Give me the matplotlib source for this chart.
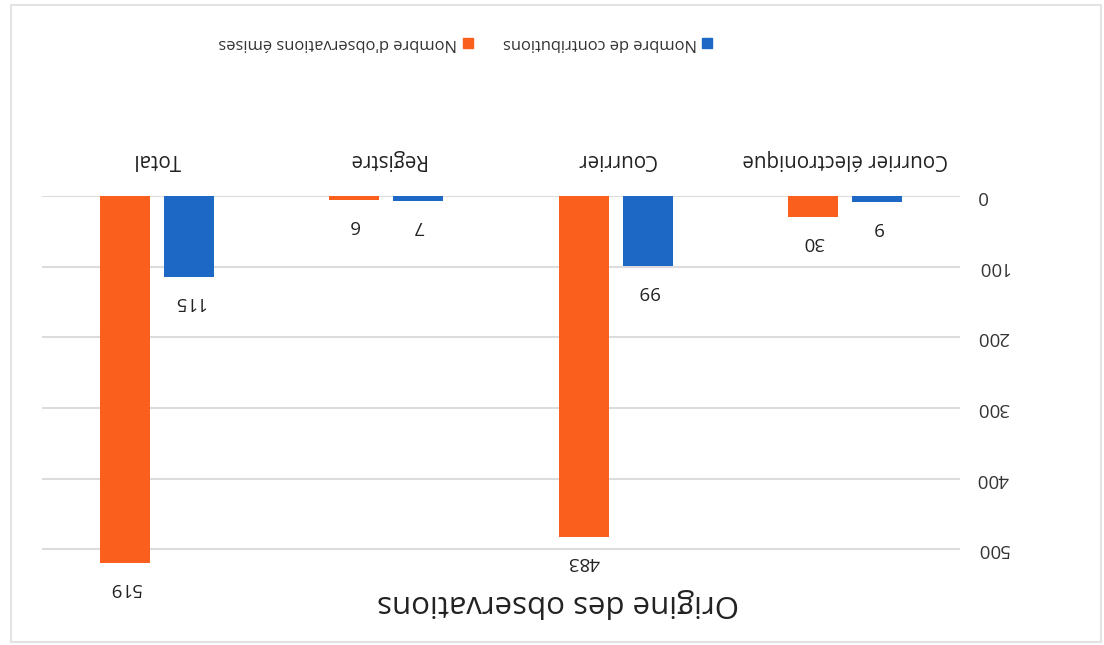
import matplotlib
matplotlib.use("Agg")
import matplotlib.pyplot as plt
from matplotlib.patches import Rectangle
import numpy as np

# the scanned chart is upside down, so everything is drawn rotated by 180 degrees
categories = ["Courrier électronique", "Courrier", "Registre", "Total"]
contributions = [9, 99, 7, 115]
observations = [30, 483, 6, 519]
series_names = ["Nombre de contributions", "Nombre d'observations émises"]
y_ticks = [0, 100, 200, 300, 400, 500]
title = "Origine des observations"

blue = "#1c68c4"
orange = "#fa5f1e"
plt.rcParams['font.family'] = ['Open Sans', 'DejaVu Sans']

W, H = 1104, 645
fig = plt.figure(figsize=(W / 100, H / 100), dpi=100)

# plot area in pixels: x 42..960, zero line at y=196
left, right, top, bottom = 42, 960, 196, 567
ax = fig.add_axes([left / W, 1 - bottom / H, (right - left) / W, (bottom - top) / H])

x = np.arange(len(categories))
w = 0.218
off = 0.14
ax.bar(x - off, contributions, w, color=blue, zorder=3)
ax.bar(x + off, observations, w, color=orange, zorder=3)

for xi, v in zip(x - off, contributions):
    ax.annotate(str(v), (xi, v), xytext=(0, -18), textcoords="offset points",
                rotation=180, ha="center", va="center", fontsize=13.5, color="#222222")
for xi, v in zip(x + off, observations):
    ax.annotate(str(v), (xi, v), xytext=(0, -18), textcoords="offset points",
                rotation=180, ha="center", va="center", fontsize=13.5, color="#222222")

ax.set_xlim(3.5, -0.5)
ax.set_ylim(525, 0)
ax.set_yticks(y_ticks)
ax.yaxis.tick_right()
ax.set_yticklabels([str(t) for t in y_ticks], rotation=180, fontsize=13.5,
                   color="#333333", va="center")
ax.tick_params(axis="y", length=0, pad=12)
ax.set_xticks(x)
ax.xaxis.tick_top()
ax.set_xticklabels(categories, rotation=180, fontsize=14.8, color="#222222")
ax.tick_params(axis="x", length=0, pad=19)
ax.grid(axis="y", color="#dcdcdc", linewidth=1.5, zorder=0)
for s in ax.spines.values():
    s.set_visible(False)

fig.text(558 / W, 1 - 603 / H, title, rotation=180, ha="center", va="center",
         fontsize=22.5, color="#222222")

# legend, drawn by hand so it can be turned upside down
for name, col, sq_x, txt_x in [(series_names[0], blue, 702, 697),
                                (series_names[1], orange, 463, 457)]:
    fig.patches.append(Rectangle((sq_x / W, 1 - 48 / H), 10 / W, 10 / H,
                                 transform=fig.transFigure, color=col))
    fig.text(txt_x / W, 1 - 43 / H, name, rotation=180, ha="right", va="center",
             fontsize=11.9, color="#333333")

# light chart border
fig.patches.append(Rectangle((11 / W, 1 - 642 / H), 1090 / W, 637 / H,
                             transform=fig.transFigure, fill=False,
                             edgecolor="#e3e3e3", linewidth=1.5))

fig.savefig("out.png", dpi=100, facecolor="white")
